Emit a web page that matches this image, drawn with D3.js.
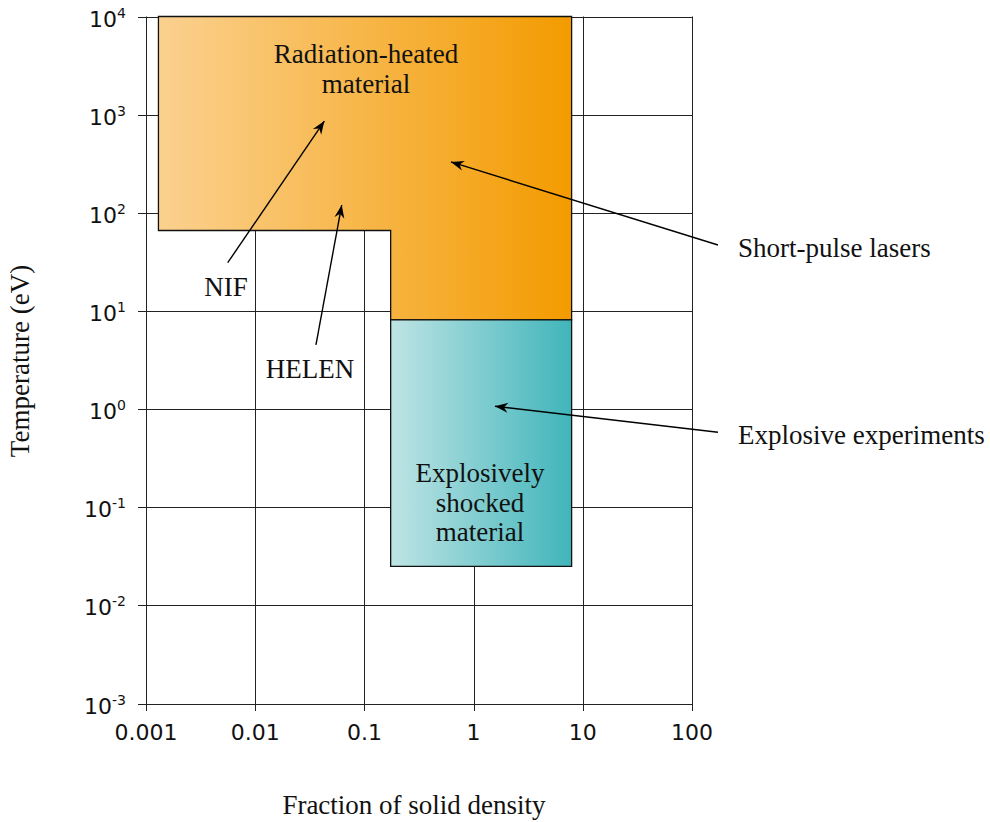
<!DOCTYPE html>
<html>
<head>
<meta charset="utf-8">
<script src="https://cdn.jsdelivr.net/npm/d3@7"></script>
<style>
  body { margin: 0; background: #fff; }
  svg { display: block; }
</style>
</head>
<body>
<div id="chart"></div>
<script>
// datos
var densityTicks = [0.001, 0.01, 0.1, 1, 10, 100];
var densityTickLabels = ["0.001", "0.01", "0.1", "1", "10", "100"];
var tempExponents = [4, 3, 2, 1, 0, -1, -2, -3];

// región calentada por radiación (forma de L)
var radDensity = [0.0013, 7.9, 7.9, 0.174, 0.174, 0.0013];
var radTemp = [1e4, 1e4, 8.1, 8.1, 66, 66];

// región de choque explosivo
var shockDensity = [0.174, 7.9, 7.9, 0.174];
var shockTemp = [8.1, 8.1, 0.025, 0.025];

// flechas: [desde, hasta] en unidades de datos
var arrowNames = ["NIF", "HELEN", "Short-pulse lasers", "Explosive experiments"];
var arrowFromX = [0.0056, 0.036, 173, 173];
var arrowFromY = [31, 4.5, 47, 0.58];
var arrowToX = [0.043, 0.062, 0.62, 1.57];
var arrowToY = [860, 120, 330, 1.07];

var W = 990, H = 822;
var serif = "'Liberation Serif', 'Times New Roman', serif";
var sans = "'DejaVu Sans', sans-serif";
var fs = "27px";

var svg = d3.select("#chart").append("svg")
    .attr("width", W)
    .attr("height", H);

var x = d3.scaleLog().domain([0.001, 100]).range([146, 692]);
var y = d3.scaleLog().domain([1e-3, 1e4]).range([703.5, 16.5]);

var defs = svg.append("defs");
function grad(id, c0, c1) {
    var g = defs.append("linearGradient")
        .attr("id", id)
        .attr("x1", "0%").attr("y1", "0%")
        .attr("x2", "100%").attr("y2", "0%");
    g.append("stop").attr("offset", "0%").attr("stop-color", c0);
    g.append("stop").attr("offset", "100%").attr("stop-color", c1);
}
grad("orange-grad", "#fbd190", "#f39b00");
grad("teal-grad", "#bfe4e4", "#40b5bb");

defs.append("marker")
    .attr("id", "arrow")
    .attr("viewBox", "-14 -6 16 12")
    .attr("refX", 0).attr("refY", 0)
    .attr("markerWidth", 16).attr("markerHeight", 12)
    .attr("markerUnits", "userSpaceOnUse")
    .attr("orient", "auto")
    .append("path")
    .attr("d", "M0,0 L-13,-5 L-9,0 L-13,5 Z")
    .attr("fill", "#000");

// rejilla
var grid = svg.append("g").attr("stroke", "#222").attr("stroke-width", 1);
tempExponents.forEach(function(e) {
    var yy = Math.round(y(Math.pow(10, e))) + 0.5;
    grid.append("line")
        .attr("x1", 138).attr("x2", x(100))
        .attr("y1", yy).attr("y2", yy);
});
densityTicks.forEach(function(d) {
    var xx = Math.round(x(d)) + 0.5;
    grid.append("line")
        .attr("x1", xx).attr("x2", xx)
        .attr("y1", y(1e4)).attr("y2", 711);
});

// regiones
var line = d3.line()
    .x(function(d) { return x(d[0]); })
    .y(function(d) { return y(d[1]); })
    .curve(d3.curveLinearClosed);

svg.append("path")
    .attr("d", line(d3.zip(radDensity, radTemp)))
    .attr("fill", "url(#orange-grad)")
    .attr("stroke", "#111")
    .attr("stroke-width", 1.3);

svg.append("path")
    .attr("d", line(d3.zip(shockDensity, shockTemp)))
    .attr("fill", "url(#teal-grad)")
    .attr("stroke", "#111")
    .attr("stroke-width", 1.3);

// etiquetas eje Y (10^n)
tempExponents.forEach(function(e) {
    var t = svg.append("text")
        .attr("x", 126)
        .attr("y", y(Math.pow(10, e)) + 10)
        .attr("text-anchor", "end")
        .attr("font-family", sans)
        .attr("font-size", "22px")
        .attr("fill", "#111");
    t.append("tspan").text("10");
    t.append("tspan")
        .attr("dy", -9)
        .attr("font-size", "14px")
        .text(String(e));
});

// etiquetas eje X
svg.selectAll("text.xlab")
    .data(densityTicks)
    .enter()
    .append("text")
    .attr("class", "xlab")
    .attr("x", function(d) { return x(d); })
    .attr("y", 740)
    .attr("text-anchor", "middle")
    .attr("font-family", sans)
    .attr("font-size", "22px")
    .attr("fill", "#111")
    .text(function(d, i) { return densityTickLabels[i]; });

// títulos de ejes
svg.append("text")
    .attr("x", 414)
    .attr("y", 814)
    .attr("text-anchor", "middle")
    .attr("font-family", serif)
    .attr("font-size", fs)
    .attr("fill", "#111")
    .text("Fraction of solid density");

svg.append("text")
    .attr("transform", "translate(29,361) rotate(-90)")
    .attr("text-anchor", "middle")
    .attr("font-family", serif)
    .attr("font-size", fs)
    .attr("fill", "#111")
    .text("Temperature (eV)");

// texto de las regiones
function multiline(lines, cx, y0, step) {
    var t = svg.append("text")
        .attr("text-anchor", "middle")
        .attr("font-family", serif)
        .attr("font-size", fs)
        .attr("fill", "#111");
    lines.forEach(function(s, i) {
        t.append("tspan").attr("x", cx).attr("y", y0 + i * step).text(s);
    });
}
multiline(["Radiation-heated", "material"], 366, 63, 29.5);
multiline(["Explosively", "shocked", "material"], 480, 482, 29.5);

// flechas
arrowNames.forEach(function(n, i) {
    svg.append("line")
        .attr("x1", x(arrowFromX[i])).attr("y1", y(arrowFromY[i]))
        .attr("x2", x(arrowToX[i])).attr("y2", y(arrowToY[i]))
        .attr("stroke", "#000")
        .attr("stroke-width", 1.4)
        .attr("marker-end", "url(#arrow)");
});

// etiquetas de las flechas
var labelX = [226, 310, 738, 738];
var labelY = [296, 378, 257, 444];
var labelAnchor = ["middle", "middle", "start", "start"];
arrowNames.forEach(function(n, i) {
    svg.append("text")
        .attr("x", labelX[i])
        .attr("y", labelY[i])
        .attr("text-anchor", labelAnchor[i])
        .attr("font-family", serif)
        .attr("font-size", fs)
        .attr("fill", "#111")
        .text(n);
});
</script>
</body>
</html>
